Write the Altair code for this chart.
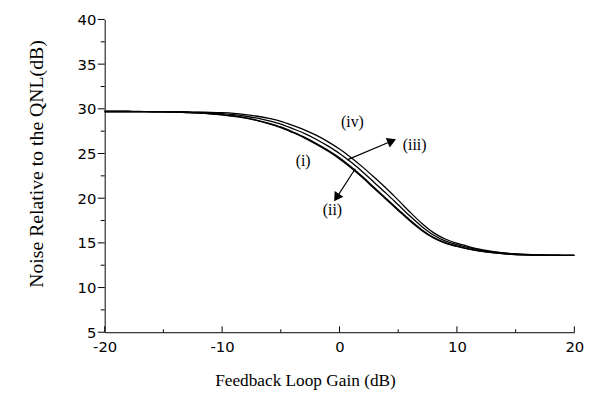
import altair as alt
import pandas as pd

# ---- data ----
gain_db = list(range(-20, 21))

curve_i = [29.70, 29.70, 29.70, 29.69, 29.67, 29.65, 29.63, 29.59, 29.53, 29.44,
           29.32, 29.17, 28.95, 28.67, 28.32, 27.90, 27.35, 26.75, 26.05, 25.28,
           24.40, 23.38, 22.25, 21.03, 19.83, 18.63, 17.45, 16.40, 15.55, 14.98,
           14.60, 14.31, 14.07, 13.90, 13.78, 13.70, 13.65, 13.63, 13.61, 13.61, 13.60]
curve_ii = [29.70, 29.70, 29.70, 29.69, 29.67, 29.66, 29.63, 29.59, 29.54, 29.45,
            29.34, 29.20, 28.99, 28.72, 28.38, 27.97, 27.43, 26.84, 26.15, 25.38,
            24.51, 23.49, 22.37, 21.15, 19.95, 18.74, 17.55, 16.48, 15.61, 15.02,
            14.64, 14.34, 14.09, 13.91, 13.79, 13.70, 13.65, 13.63, 13.61, 13.61, 13.60]
curve_iii = [29.70, 29.70, 29.70, 29.69, 29.68, 29.67, 29.65, 29.62, 29.59, 29.53,
             29.45, 29.35, 29.17, 28.95, 28.65, 28.29, 27.79, 27.25, 26.60, 25.85,
             25.01, 24.01, 22.91, 21.71, 20.51, 19.26, 18.00, 16.84, 15.88, 15.22,
             14.80, 14.46, 14.18, 13.98, 13.84, 13.73, 13.67, 13.64, 13.62, 13.61, 13.60]
curve_iv = [29.70, 29.70, 29.70, 29.70, 29.69, 29.69, 29.68, 29.66, 29.63, 29.61,
            29.57, 29.49, 29.35, 29.17, 28.92, 28.60, 28.15, 27.65, 27.05, 26.33,
            25.50, 24.53, 23.45, 22.28, 21.08, 19.78, 18.45, 17.20, 16.15, 15.43,
            14.96, 14.59, 14.27, 14.04, 13.88, 13.77, 13.70, 13.66, 13.63, 13.61, 13.60]
curve_names = ["(i)", "(ii)", "(iii)", "(iv)"]

label_text = ["(i)", "(ii)", "(iii)", "(iv)"]
label_x = [-3.1, -0.6, 6.4, 1.1]
label_y = [24.1, 18.7, 25.9, 28.55]

arrow_x_start = [0.65, 1.34]
arrow_y_start = [24.29, 23.30]
arrow_x_end = [4.46, -0.25]
arrow_y_end = [26.40, 20.07]
arrow_angle = [67, 213]

x_tick_major = [-20, -10, 0, 10, 20]
x_tick_minor = [-15, -5, 5, 15]
y_tick_major = [5, 10, 15, 20, 25, 30, 35, 40]
y_tick_minor = [7.5, 12.5, 17.5, 22.5, 27.5, 32.5, 37.5]

# ---- tables ----
rows = []
for name, vals in zip(curve_names, [curve_i, curve_ii, curve_iii, curve_iv]):
    for g, v in zip(gain_db, vals):
        rows.append({"gain": g, "noise": v, "curve": name})
df = pd.DataFrame(rows)
labels_df = pd.DataFrame({"t": label_text, "x": label_x, "y": label_y})
arrows_df = pd.DataFrame({"x": arrow_x_start, "y": arrow_y_start,
                          "x2": arrow_x_end, "y2": arrow_y_end, "a": arrow_angle})

W, H = 476, 317
xscale = alt.Scale(domain=[-20, 20], nice=False, zero=False)
yscale = alt.Scale(domain=[5, 40], nice=False, zero=False)

xaxis = alt.Axis(
    values=x_tick_major, ticks=False, tickSize=0, grid=False,
    labelExpr="datum.value < 0 ? '-' + (-datum.value) : '' + datum.value",
    labelFont="DejaVu Sans", labelFontSize=15, labelPadding=8, labelFlush=False,
    labelColor="black", domainColor="black", domainWidth=1,
    title="Feedback Loop Gain (dB)", titleFont="Liberation Serif",
    titleFontSize=17.5, titleFontWeight="normal", titleColor="black",
    titleX=203, titleY=49, titleBaseline="middle", titleAlign="center")
yaxis = alt.Axis(
    values=y_tick_major, ticks=False, tickSize=0, grid=False,
    labelFont="DejaVu Sans", labelFontSize=15, labelPadding=9,
    labelColor="black", domainColor="black", domainWidth=1,
    title="Noise Relative to the QNL(dB)", titleFont="Liberation Serif",
    titleFontSize=20, titleFontWeight="normal", titleColor="black",
    titleX=-69, titleY=146, titleAngle=270, titleBaseline="middle",
    titleAlign="center")


def X(field):
    return alt.X(field, scale=xscale, axis=xaxis)


def Y(field):
    return alt.Y(field, scale=yscale, axis=yaxis)


lines = alt.Chart(df).mark_line(color="black", strokeWidth=1.3, interpolate="monotone").encode(
    x=X("gain:Q"), y=Y("noise:Q"), detail="curve:N")

x_major = alt.Chart(pd.DataFrame({"v": x_tick_major})).mark_rule(color="black", strokeWidth=1).encode(
    x=X("v:Q"), y=alt.value(H), y2=alt.value(H - 6))
x_minor = alt.Chart(pd.DataFrame({"v": x_tick_minor})).mark_rule(color="black", strokeWidth=1).encode(
    x=X("v:Q"), y=alt.value(H), y2=alt.value(H - 3))
y_major = alt.Chart(pd.DataFrame({"v": y_tick_major})).mark_rule(color="black", strokeWidth=1).encode(
    y=Y("v:Q"), x=alt.value(-7), x2=alt.value(0))
y_minor = alt.Chart(pd.DataFrame({"v": y_tick_minor})).mark_rule(color="black", strokeWidth=1).encode(
    y=Y("v:Q"), x=alt.value(-4), x2=alt.value(0))

texts = alt.Chart(labels_df).mark_text(font="Liberation Serif", fontSize=16, color="black",
                                      align="center", baseline="middle").encode(
    x=X("x:Q"), y=Y("y:Q"), text="t:N")

arrow_lines = alt.Chart(arrows_df).mark_rule(color="black", strokeWidth=1.2).encode(
    x=X("x:Q"), y=Y("y:Q"), x2="x2:Q", y2="y2:Q")
arrow_heads = alt.Chart(arrows_df).mark_point(shape="triangle-up", filled=True, color="black",
                                             size=110, opacity=1).encode(
    x=X("x2:Q"), y=Y("y2:Q"), angle=alt.Angle("a:Q", scale=None))

chart = alt.layer(lines, x_major, x_minor, y_major, y_minor, texts, arrow_lines, arrow_heads).properties(
    width=W, height=H,
    padding={"left": 98, "top": 9, "right": 25, "bottom": 62},
    autosize=alt.AutoSizeParams(type="none"),
    background="white",
).configure_view(strokeOpacity=0)

chart.save("out.html", embed_options={"renderer": "svg", "actions": False})
